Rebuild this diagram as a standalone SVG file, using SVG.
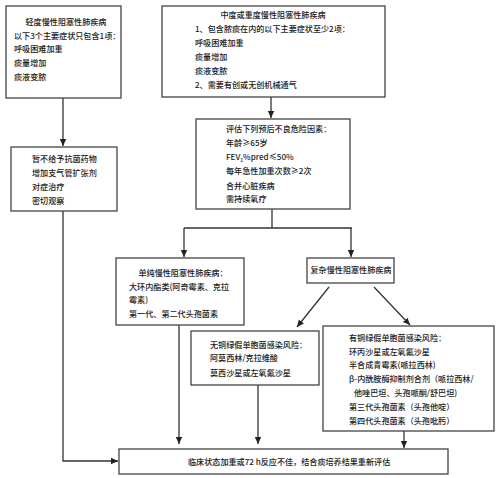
<svg xmlns="http://www.w3.org/2000/svg" width="500" height="478" viewBox="0 0 500 478">
<style>
.box{fill:#fff;stroke:#444;stroke-width:1.3}
.ln{fill:none;stroke:#333;stroke-width:1.3}
text{font-family:"Noto Sans CJK SC","Noto Sans",sans-serif;font-size:8.1px;fill:#1a1a1a;font-weight:500}
.c{text-anchor:middle}
</style>
<defs>
<marker id="ah" markerUnits="userSpaceOnUse" markerWidth="8" markerHeight="8" viewBox="0 0 8 8" refX="7" refY="4" orient="auto">
<path d="M0,0.8 L7,4 L0,7.2 Z" fill="#222"/>
</marker>
</defs>
<rect width="500" height="478" fill="#fff"/>
<g id="connectors">
<path class="ln" d="M63,98 V146" marker-end="url(#ah)"/>
<path class="ln" d="M63,211 V461 H118" marker-end="url(#ah)"/>
<path class="ln" d="M271,97 V118" marker-end="url(#ah)"/>
<path class="ln" d="M272,209 V228"/>
<path class="ln" d="M184,228 H352"/>
<path class="ln" d="M184,228 V257" marker-end="url(#ah)"/>
<path class="ln" d="M351,228 V257" marker-end="url(#ah)"/>
<path class="ln" d="M329,287 L297,327" marker-end="url(#ah)"/>
<path class="ln" d="M374,287 L410,325" marker-end="url(#ah)"/>
<path class="ln" d="M179,325 V444" marker-end="url(#ah)"/>
<path class="ln" d="M258,385 V444" marker-end="url(#ah)"/>
<path class="ln" d="M404,431 V448" marker-end="url(#ah)"/>
</g>
<g id="mild">
<rect class="box" x="6" y="6" width="115" height="92"/>
<text class="c" x="66" y="25">轻度慢性阻塞性肺疾病</text>
<text x="14" y="39">以下3个主要症状只包含1项：</text>
<text x="14" y="52">呼吸困难加重</text>
<text x="14" y="66">痰量增加</text>
<text x="14" y="80">痰液变脓</text>
</g>
<g id="moderate">
<rect class="box" x="162" y="6" width="223" height="91"/>
<text class="c" x="273" y="18">中度或重度慢性阻塞性肺疾病</text>
<text x="195" y="32">1、包含脓痰在内的以下主要症状至少2项：</text>
<text x="195" y="46">呼吸困难加重</text>
<text x="195" y="60">痰量增加</text>
<text x="195" y="74">痰液变脓</text>
<text x="195" y="88">2、需要有创或无创机械通气</text>
</g>
<g id="mild-treat">
<rect class="box" x="11" y="147" width="106" height="64"/>
<text x="32" y="162">暂不给予抗菌药物</text>
<text x="32" y="176">增加支气管扩张剂</text>
<text x="32" y="190">对症治疗</text>
<text x="32" y="204">密切观察</text>
</g>
<g id="assess">
<rect class="box" x="196" y="119" width="154" height="90"/>
<text x="226" y="132">评估下列预后不良危险因素：</text>
<text x="226" y="146">年龄≥65岁</text>
<text x="226" y="160">FEV<tspan font-size="5" dy="2">1</tspan><tspan dy="-2">%pred≤50%</tspan></text>
<text x="226" y="174">每年急性加重次数≥2次</text>
<text x="226" y="189">合并心脏疾病</text>
<text x="226" y="202">需持续氧疗</text>
</g>
<g id="simple">
<rect class="box" x="116" y="258" width="128" height="67"/>
<text class="c" x="183" y="276">单纯慢性阻塞性肺疾病：</text>
<text x="129" y="290">大环内酯类(阿奇霉素、克拉</text>
<text x="129" y="303">霉素)</text>
<text x="129" y="317">第一代、第二代头孢菌素</text>
</g>
<g id="complex">
<rect class="box" x="307" y="258" width="87" height="25"/>
<text class="c" x="351" y="273">复杂慢性阻塞性肺疾病</text>
</g>
<g id="no-pseudomonas">
<rect class="box" x="191" y="331" width="128" height="54"/>
<text x="210" y="348">无铜绿假单胞菌感染风险：</text>
<text x="210" y="361">阿莫西林/克拉维酸</text>
<text x="210" y="376">莫西沙星或左氧氟沙星</text>
</g>
<g id="pseudomonas">
<rect class="box" x="323" y="326" width="171" height="105"/>
<text x="349" y="341">有铜绿假单胞菌感染风险：</text>
<text x="349" y="355">环丙沙星或左氧氟沙星</text>
<text x="349" y="368">半合成青霉素(哌拉西林)</text>
<text x="349" y="382">β-内酰胺酶抑制剂合剂（哌拉西林/</text>
<text x="354" y="396">他唑巴坦、头孢哌酮/舒巴坦)</text>
<text x="349" y="410">第三代头孢菌素（头孢他啶）</text>
<text x="349" y="424">第四代头孢菌素（头孢吡肟）</text>
</g>
<g id="reassess">
<rect class="box" x="119" y="449" width="329" height="25"/>
<text x="188" y="465">临床状态加重或72 h反应不佳，结合痰培养结果重新评估</text>
</g>
</svg>
